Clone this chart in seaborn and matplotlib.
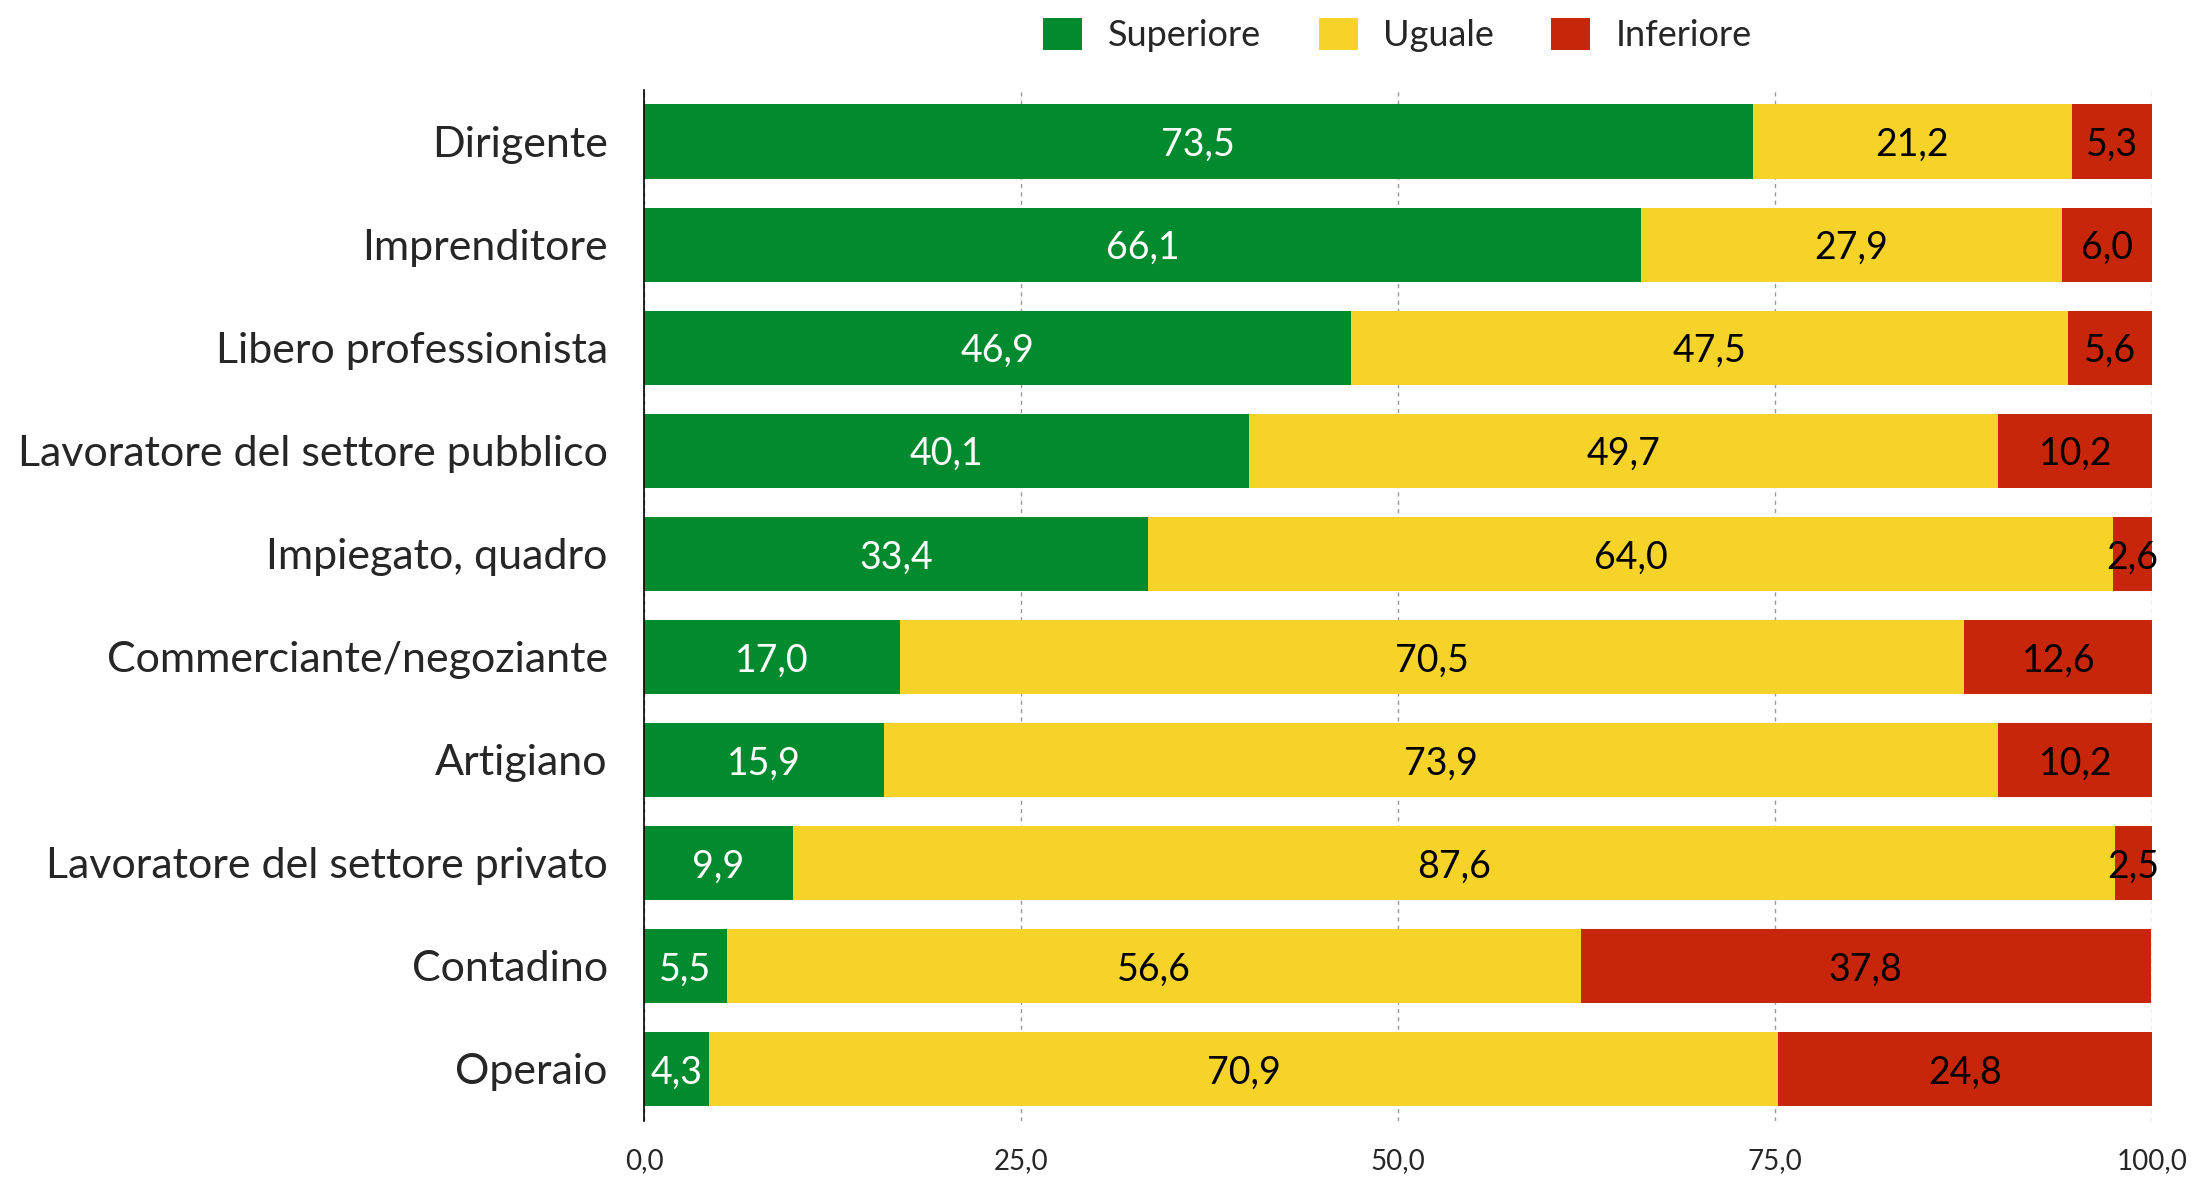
import pandas as pd
import matplotlib.pyplot as plt
import seaborn as sns
from matplotlib.patches import Patch

categorie = [
    "Dirigente",
    "Imprenditore",
    "Libero professionista",
    "Lavoratore del settore pubblico",
    "Impiegato, quadro",
    "Commerciante/negoziante",
    "Artigiano",
    "Lavoratore del settore privato",
    "Contadino",
    "Operaio",
]
superiore = [73.5, 66.1, 46.9, 40.1, 33.4, 17.0, 15.9, 9.9, 5.5, 4.3]
uguale = [21.2, 27.9, 47.5, 49.7, 64.0, 70.5, 73.9, 87.6, 56.6, 70.9]
inferiore = [5.3, 6.0, 5.6, 10.2, 2.6, 12.6, 10.2, 2.5, 37.8, 24.8]
serie = ["Superiore", "Uguale", "Inferiore"]
xticks = [0, 25, 50, 75, 100]

colori = {"Superiore": "#028A2E", "Uguale": "#F5D329", "Inferiore": "#C8260A"}
testo_colore = {"Superiore": "white", "Uguale": "black", "Inferiore": "black"}


def fmt(v):
    return f"{v:.1f}".replace(".", ",")


def main():
    df = pd.DataFrame({
        "categoria": categorie,
        "Superiore": superiore,
        "Uguale": uguale,
        "Inferiore": inferiore,
    })
    df["fine_sup"] = df["Superiore"]
    df["fine_ugu"] = df["Superiore"] + df["Uguale"]
    df["fine_inf"] = df["fine_ugu"] + df["Inferiore"]

    sns.set_style("white")
    plt.rcParams["font.family"] = ["Lato", "DejaVu Sans"]

    fig = plt.figure(figsize=(21.94, 11.77), dpi=100)
    ax = fig.add_axes([0.2935, 0.048, 0.6875, 0.8755])

    # barre cumulative, dalla piu' lunga alla piu' corta
    for col, nome in [("fine_inf", "Inferiore"), ("fine_ugu", "Uguale"), ("fine_sup", "Superiore")]:
        sns.barplot(data=df, y="categoria", x=col, orient="h", color=colori[nome],
                    width=0.72, saturation=1, linewidth=0, ax=ax, zorder=3)

    starts = {"Superiore": [0] * len(df), "Uguale": df["fine_sup"], "Inferiore": df["fine_ugu"]}
    for nome in serie:
        for i in range(len(df)):
            v = df[nome][i]
            c = starts[nome][i] + v / 2
            ax.text(c, i, fmt(v), ha="center", va="center_baseline", fontsize=27,
                    color=testo_colore[nome], zorder=5)

    ax.set_xlim(0, 100)
    ax.set_ylim(len(df) - 0.5, -0.5)
    ax.set_xticks(xticks)
    ax.set_xticklabels([fmt(t) for t in xticks], fontsize=20)
    ax.tick_params(axis="x", length=0, pad=20)
    ax.tick_params(axis="y", length=0, pad=26, labelsize=31)
    for lab in ax.get_yticklabels():
        lab.set_verticalalignment("center_baseline")
    ax.set_xlabel("")
    ax.set_ylabel("")
    ax.grid(axis="x", color="#999999", linestyle=(0, (3, 3)), linewidth=1, zorder=0)
    ax.grid(axis="y", visible=False)
    for s in ["top", "right", "bottom"]:
        ax.spines[s].set_visible(False)
    ax.spines["left"].set_color("black")
    ax.spines["left"].set_linewidth(1.2)
    ax.spines["left"].set_zorder(6)

    handles = [Patch(facecolor=colori[n], edgecolor="none", label=n) for n in serie]
    fig.legend(handles=handles, loc="center", bbox_to_anchor=(0.637, 0.97), ncol=3,
               frameon=False, fontsize=26, handlelength=1.08, handleheight=0.97,
               handletextpad=0.7, columnspacing=1.6)

    fig.savefig("out.png", dpi=100)


if __name__ == "__main__":
    main()
